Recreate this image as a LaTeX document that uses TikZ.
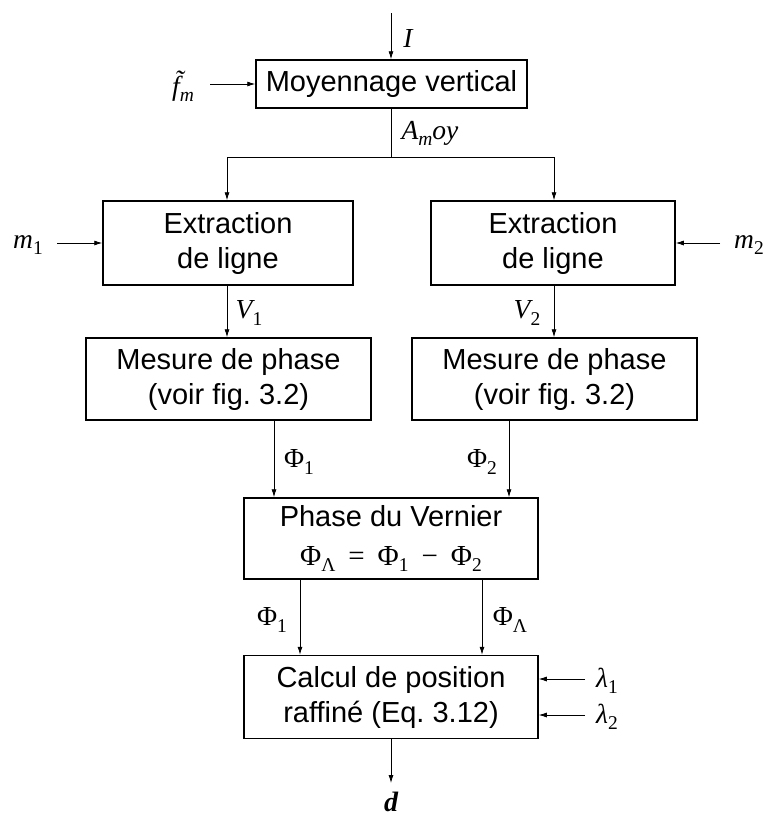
\documentclass[tikz,border=0pt]{standalone}
\usepackage{fontspec}
\setmainfont{Liberation Sans}
\newfontfamily\tm{Liberation Serif}
\usetikzlibrary{arrows.meta}
\frenchspacing
\newcommand\mi[1]{{\tm\itshape #1}}
\newcommand\mrm[1]{{\tm #1}}
\newcommand\msb[1]{\raisebox{-0.22em}{\fontsize{19.5}{19.5}\selectfont #1}}
\begin{document}
\begin{tikzpicture}[x=1pt,y=-1pt,
  box/.style={draw,line width=1.5pt,inner sep=0pt,align=center,font=\fontsize{29}{35}\selectfont},
  conn/.style={line width=0.8pt,-{Latex[length=8pt,width=5pt]}},
  plain/.style={line width=0.8pt},
  lab/.style={inner sep=0pt,font=\fontsize{27.5}{27.5}\selectfont}]
\useasboundingbox (0,0) rectangle (769,817);
% boxes
\node[box,minimum width=271pt,minimum height=48pt] (b1) at (391.5,84) {Moyennage vertical};
\node[box,minimum width=250pt,minimum height=84pt] (extL) at (228,243) {Extraction\\de ligne};
\node[box,minimum width=244pt,minimum height=84pt] (extR) at (553,243) {Extraction\\de ligne};
\node[box,minimum width=285pt,minimum height=82pt] (mesL) at (228.5,379) {Mesure de phase\\(voir fig. 3.2)};
\node[box,minimum width=285pt,minimum height=82pt] (mesR) at (554.5,379) {Mesure de phase\\(voir fig. 3.2)};
\node[box,minimum width=294pt,minimum height=81pt,font=\fontsize{29}{39}\selectfont] (phase) at (391,538.5) {Phase du Vernier\\\mrm{Φ}\msb{\tm Λ}\ \,\mrm{=}\ \,\mrm{Φ}\msb{\tm 1}\ \,\mrm{−}\ \,\mrm{Φ}\msb{\tm 2}};
\node[box,minimum width=294pt,minimum height=83pt] (calc) at (391,697) {Calcul de position\\raffiné (Eq. 3.12)};
% labels
\node[lab] (lI) at (408,38) {\mi{I}};
\node[lab] (lf) at (183,86) {\mi{\~{f}}\msb{\tm\itshape m}};
\node[lab] (lA) at (430,133) {\mi{A}\msb{\tm\itshape m}\mi{oy}};
\node[lab] (lm1) at (28,245) {\mi{m}\msb{\tm 1}};
\node[lab] (lm2) at (749,245) {\mi{m}\msb{\tm 2}};
\node[lab] (lV1) at (249,313) {\mi{V}\msb{\tm 1}};
\node[lab] (lV2) at (527,313) {\mi{V}\msb{\tm 2}};
\node[lab] (lP1) at (299,462) {\mrm{Φ}\msb{\tm 1}};
\node[lab] (lP2) at (482,462) {\mrm{Φ}\msb{\tm 2}};
\node[lab] (lP1b) at (272,620) {\mrm{Φ}\msb{\tm 1}};
\node[lab] (lPL) at (510,620) {\mrm{Φ}\msb{\tm Λ}};
\node[lab] (ll1) at (607,681) {\mi{λ}\msb{\tm 1}};
\node[lab] (ll2) at (607,717) {\mi{λ}\msb{\tm 2}};
\node[lab,font=\fontsize{28}{28}\selectfont] (ld) at (391,802) {{\tm\bfseries\itshape d}};
% connectors
\coordinate (tI) at (391,13);
\draw[conn] (tI) -- (tI |- b1.north);
\coordinate (tf) at (210,84);
\draw[conn] (tf) -- (b1.west);
\coordinate (sp) at (391,157);
\coordinate (sl) at (227,157);
\coordinate (sr) at (554,157);
\draw[plain] (sp |- b1.south) -- (sp);
\draw[plain] (sl) -- (sr);
\draw[conn] (sl) -- (sl |- extL.north);
\draw[conn] (sr) -- (sr |- extR.north);
\coordinate (tm1) at (57,243);
\draw[conn] (tm1) -- (extL.west);
\coordinate (tm2) at (720,243);
\draw[conn] (tm2) -- (extR.east);
\draw[conn] (sl |- extL.south) -- (sl |- mesL.north);
\draw[conn] (sr |- extR.south) -- (sr |- mesR.north);
\coordinate (p1) at (274,0);
\coordinate (p2) at (509,0);
\draw[conn] (p1 |- mesL.south) -- (p1 |- phase.north);
\draw[conn] (p2 |- mesR.south) -- (p2 |- phase.north);
\coordinate (q1) at (300,0);
\coordinate (q2) at (482,0);
\draw[conn] (q1 |- phase.south) -- (q1 |- calc.north);
\draw[conn] (q2 |- phase.south) -- (q2 |- calc.north);
\coordinate (tl1) at (585,679);
\coordinate (tl2) at (585,715);
\draw[conn] (tl1) -- (tl1 -| calc.east);
\draw[conn] (tl2) -- (tl2 -| calc.east);
\coordinate (td) at (391,783);
\draw[conn] (calc.south) -- (td);
\end{tikzpicture}
\end{document}
